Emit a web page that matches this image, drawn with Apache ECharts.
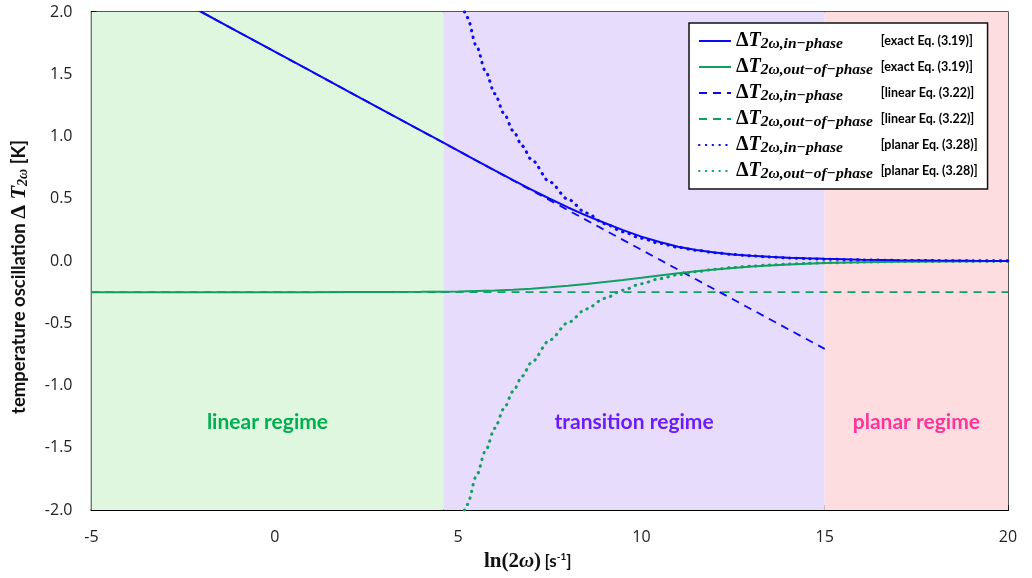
<!DOCTYPE html>
<html><head><meta charset="utf-8">
<script src="https://cdn.jsdelivr.net/npm/echarts@6/dist/echarts.min.js"></script>
<style>html,body{margin:0;padding:0;background:#fff}#c{width:1032px;height:578px}</style>
</head><body><div id="c"></div><script>
// ---- data ----
const xExact = [-5,-4,-3,-2,-1,0,1,2,3,4,4.5,5,5.5,6,6.5,7,7.5,8,8.5,9,9.5,10,10.5,11,11.5,12,12.5,13,13.5,14,14.5,15,16,17,18,19,20];
const inExact = [2.477,2.318,2.159,2.0,1.841,1.682,1.523,1.363,1.204,1.045,0.966,0.886,0.807,0.728,0.650,0.574,0.500,0.430,0.365,0.305,0.248,0.196,0.152,0.115,0.088,0.068,0.053,0.042,0.034,0.027,0.022,0.018,0.011,0.007,0.004,0.002,0.001];
const outExact = [-0.250,-0.250,-0.250,-0.250,-0.250,-0.250,-0.250,-0.249,-0.248,-0.247,-0.246,-0.244,-0.240,-0.236,-0.230,-0.222,-0.211,-0.198,-0.184,-0.168,-0.152,-0.135,-0.116,-0.098,-0.082,-0.068,-0.056,-0.045,-0.036,-0.028,-0.022,-0.017,-0.010,-0.006,-0.004,-0.002,-0.001];
const xInLinear = [-5, 15];
const inLinear = [2.477, -0.706];
const xOutLinear = [-5, 20];
const outLinear = [-0.25, -0.25];
const xPlanar = [5,5.25,5.5,5.75,6,6.25,6.5,6.75,7,7.5,8,8.5,9,9.5,10,10.5,11,11.5,12,12.5,13,13.5,14,14.5,15,16,17,18,19,20];
const inPlanar = [2.216,1.956,1.726,1.523,1.344,1.186,1.047,0.924,0.815,0.635,0.495,0.385,0.300,0.234,0.182,0.142,0.110,0.086,0.067,0.052,0.041,0.032,0.025,0.019,0.015,0.009,0.005,0.003,0.002,0.001];
const outPlanar = [-2.216,-1.956,-1.726,-1.523,-1.344,-1.186,-1.047,-0.924,-0.815,-0.635,-0.495,-0.385,-0.300,-0.234,-0.182,-0.142,-0.110,-0.086,-0.067,-0.052,-0.041,-0.032,-0.025,-0.019,-0.015,-0.009,-0.005,-0.003,-0.002,-0.001];
const regimes = [
  {name: 'linear regime', from: -5, to: 4.6},
  {name: 'transition regime', from: 4.6, to: 15},
  {name: 'planar regime', from: 15, to: 20}
];
const xTicks = {min: -5, max: 20, step: 5};
const yTicks = {min: -2, max: 2, step: 0.5};
const legendSub = {
  inExact: ['2ω,in−phase', '[exact Eq. (3.19)]'],
  outExact: ['2ω,out−of−phase', '[exact Eq. (3.19)]'],
  inLinear: ['2ω,in−phase', '[linear Eq. (3.22)]'],
  outLinear: ['2ω,out−of−phase', '[linear Eq. (3.22)]'],
  inPlanar: ['2ω,in−phase', '[planar Eq. (3.28)]'],
  outPlanar: ['2ω,out−of−phase', '[planar Eq. (3.28)]']
};
// ---------------------------------------
const zip = (xs, ys) => xs.map((x, i) => [x, ys[i]]);
const BLUE = '#0a0af0', GREEN = '#12a062';
const bandColors = ['#dff6df', '#e7dcfc', '#fddde0'];
const bandText = ['#00b050', '#6a1cff', '#ff3399'];
const chart = echarts.init(document.getElementById('c'));
const dotted = [0.5, 6.3];
const dashed = [8, 6];
const mk = (name, xs, ys, color, type, width, smooth) => ({
  name, type: 'line', data: zip(xs, ys), symbol: 'none', showSymbol: false,
  smooth: smooth, smoothMonotone: 'x', clip: true, z: 3,
  lineStyle: {color, width, type, cap: type === dotted ? 'round' : 'butt'},
  itemStyle: {color}
});
chart.setOption({
  animation: false,
  grid: {left: 91, right: 24, top: 12, bottom: 68, show: true, borderColor: '#222', borderWidth: 1.5, backgroundColor: '#fff'},
  legend: {
    data: Object.keys(legendSub), orient: 'vertical', left: 689, top: 23,
    padding: [7, 10, 7, 9], itemGap: 4, itemWidth: 32, itemHeight: 14,
    backgroundColor: '#fff', borderColor: '#111', borderWidth: 1.5,
    itemStyle: {opacity: 0},
    formatter: n => '{a|Δ}{b|T}{s|' + legendSub[n][0] + '}{e|' + legendSub[n][1] + '}',
    textStyle: {
      rich: {
        a: {fontFamily: 'Liberation Serif', fontWeight: 'bold', fontSize: 20, color: '#000', lineHeight: 20},
        b: {fontFamily: 'Liberation Serif', fontWeight: 'bold', fontStyle: 'italic', fontSize: 20, color: '#000', lineHeight: 20},
        s: {fontFamily: 'Liberation Serif', fontWeight: 'bold', fontStyle: 'italic', fontSize: 15.5, color: '#000', padding: [6, 0, 0, 0], width: 120, lineHeight: 18},
        e: {fontFamily: 'Lato', fontWeight: 'bold', fontSize: 12.5, color: '#000', lineHeight: 20}
      }
    }
  },
  xAxis: {
    type: 'value', min: xTicks.min, max: xTicks.max, interval: xTicks.step,
    axisLine: {onZero: false, lineStyle: {color: '#000', width: 2}},
    axisTick: {inside: true, length: 5, lineStyle: {color: '#000', width: 1.5}},
    minorTick: {show: true, splitNumber: 5, length: 5, lineStyle: {color: '#000', width: 1.5}},
    splitLine: {show: false},
    axisLabel: {margin: 19, fontSize: 16, color: '#222', fontFamily: 'Open Sans'},
    name: '{m|ln(2}{i|ω}{m|)} {t|[s}{p|-1}{t|]}', nameLocation: 'middle', nameGap: 41,
    nameTextStyle: {
      padding: [0, 44, 0, 0],
      rich: {
        m: {fontFamily: 'Liberation Serif', fontWeight: 'bold', fontSize: 21, color: '#111'},
        i: {fontFamily: 'Liberation Serif', fontWeight: 'bold', fontStyle: 'italic', fontSize: 21, color: '#111'},
        t: {fontFamily: 'Lato', fontWeight: 'bold', fontSize: 17, color: '#111'},
        p: {fontFamily: 'Lato', fontWeight: 'bold', fontSize: 10, color: '#111', padding: [0, 0, 10, 0]}
      }
    }
  },
  yAxis: {
    type: 'value', min: yTicks.min, max: yTicks.max, interval: yTicks.step,
    axisLine: {onZero: false, lineStyle: {color: '#000', width: 2}},
    axisTick: {inside: true, length: 5, lineStyle: {color: '#000', width: 1.5}},
    minorTick: {show: true, splitNumber: 2, length: 5, lineStyle: {color: '#000', width: 1.5}},
    splitLine: {show: false},
    axisLabel: {margin: 19, fontSize: 16, color: '#222', fontFamily: 'Open Sans', formatter: v => v.toFixed(1)},
    name: '{t|temperature oscillation }{a|Δ}{b| T}{s|2ω}{t| [K]}', nameLocation: 'middle', nameRotate: 90, nameGap: 61,
    nameTextStyle: {
      padding: [0, 32, 0, 0],
      rich: {
        t: {fontFamily: 'Lato', fontWeight: 'bold', fontSize: 18.5, color: '#111'},
        a: {fontFamily: 'Liberation Serif', fontWeight: 'bold', fontSize: 22, color: '#111'},
        b: {fontFamily: 'Liberation Serif', fontWeight: 'bold', fontStyle: 'italic', fontSize: 22, color: '#111'},
        s: {fontFamily: 'Liberation Serif', fontWeight: 'bold', fontStyle: 'italic', fontSize: 14, color: '#111', padding: [9, 0, 0, 0]}
      }
    }
  },
  series: [
    {
      name: 'bands', type: 'line', data: [], z: 1,
      markArea: {
        silent: true,
        data: regimes.map((r, i) => [
          {xAxis: r.from, yAxis: yTicks.min, itemStyle: {color: bandColors[i]},
           label: {show: true, formatter: r.name, position: ['50%', '82.3%'], align: 'center', verticalAlign: 'middle',
                   color: bandText[i], fontFamily: 'Lato', fontWeight: 'bold', fontSize: 21}},
          {xAxis: r.to, yAxis: yTicks.max}
        ])
      }
    },
    mk('outLinear', xOutLinear, outLinear, GREEN, dashed, 1.8, false),
    mk('inLinear', xInLinear, inLinear, BLUE, dashed, 1.8, false),
    mk('outPlanar', xPlanar, outPlanar, GREEN, dotted, 3, 0.3),
    mk('inPlanar', xPlanar, inPlanar, BLUE, dotted, 3, 0.3),
    mk('outExact', xExact, outExact, GREEN, 'solid', 2, false),
    mk('inExact', xExact, inExact, BLUE, 'solid', 2, false)
  ]
});
</script></body></html>
